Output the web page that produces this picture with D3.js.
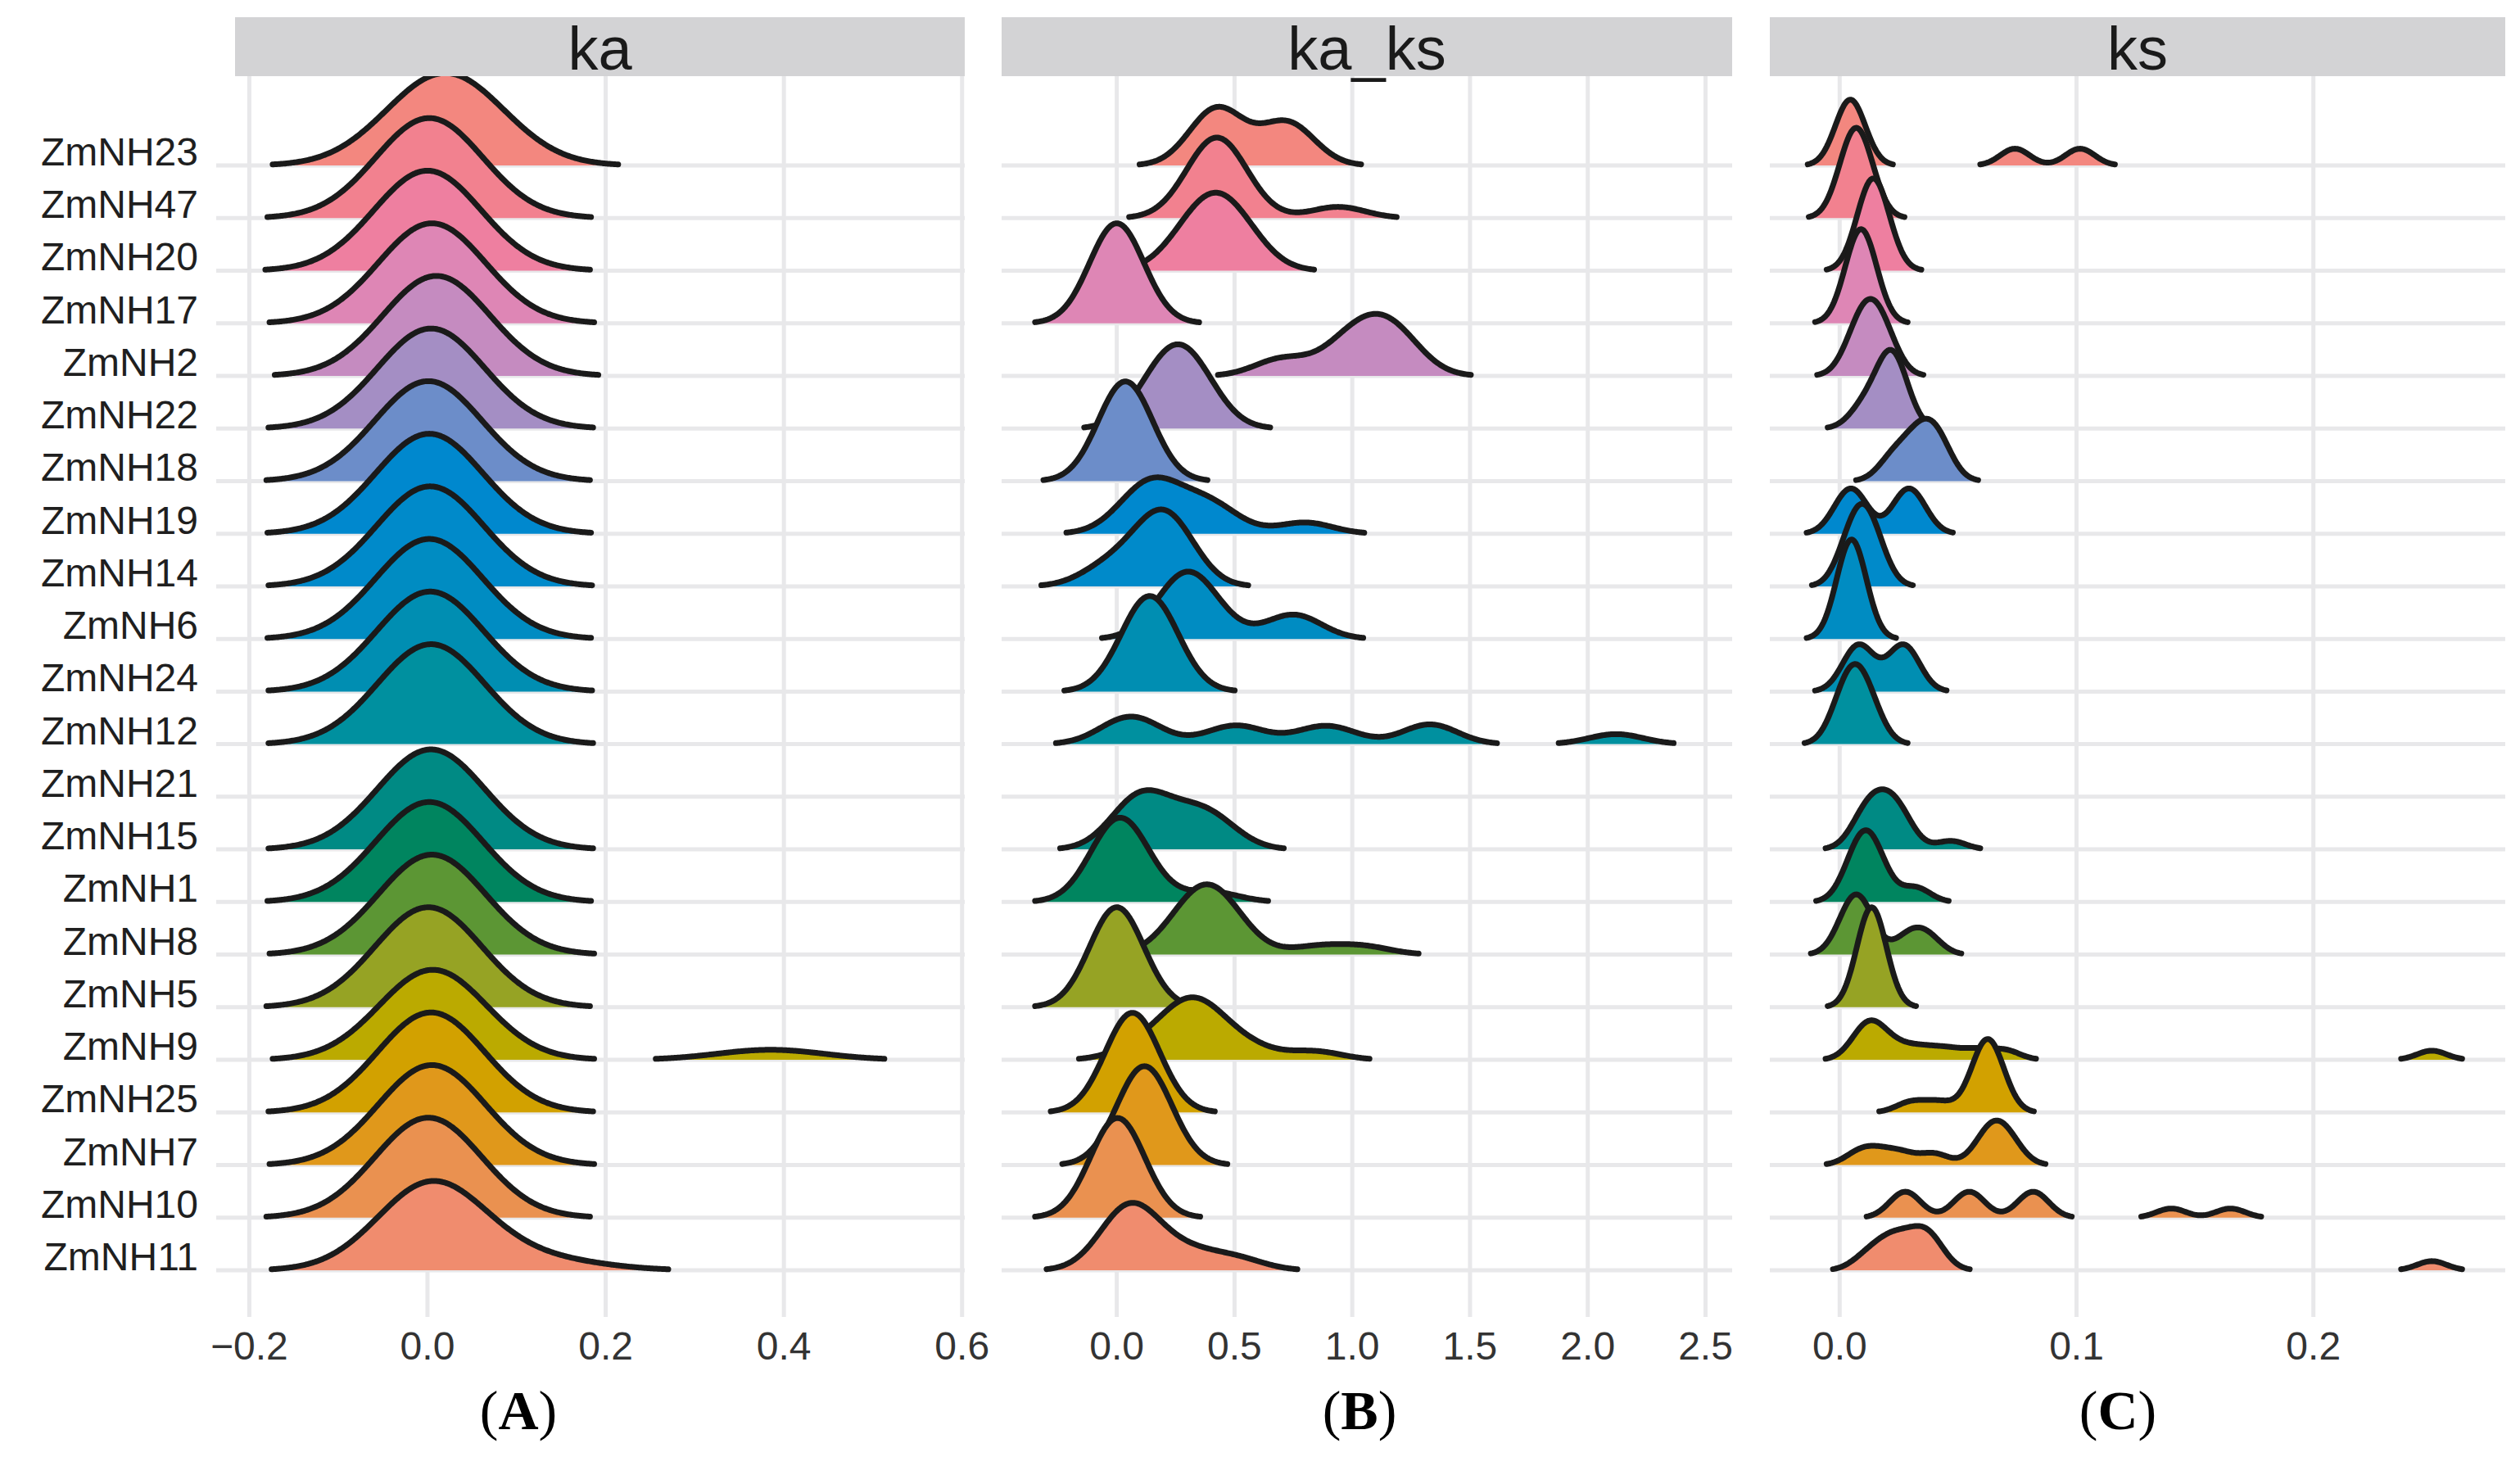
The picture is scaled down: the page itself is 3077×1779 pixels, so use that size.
<!DOCTYPE html>
<html>
<head>
<meta charset="utf-8">
<script src="https://cdn.jsdelivr.net/npm/d3@7"></script>
<style>
  body { margin: 0; background: #fff; }
  text { font-family: "Liberation Sans", Arial, sans-serif; }
</style>
</head>
<body>
<div id="chart"></div>
<script>
// genes, top row first
const genes = ['ZmNH23', 'ZmNH47', 'ZmNH20', 'ZmNH17', 'ZmNH2', 'ZmNH22', 'ZmNH18', 'ZmNH19',
  'ZmNH14', 'ZmNH6', 'ZmNH24', 'ZmNH12', 'ZmNH21', 'ZmNH15', 'ZmNH1', 'ZmNH8', 'ZmNH5',
  'ZmNH9', 'ZmNH25', 'ZmNH7', 'ZmNH10', 'ZmNH11'];

const geneColors = ['#F3877F', '#F2818F', '#EE7FA0', '#DE86B5', '#C58BC0', '#A48EC4', '#6C8DC9',
  '#0088CE', '#008ACA', '#008CC2', '#008EB2', '#00909F', '#00898C', '#008A84', '#00855F',
  '#5C9634', '#96A324', '#BBAA00', '#D2A100', '#E0981B', '#EA9150', '#F08C6E'];

const panelNames = ['ka', 'ka_ks', 'ks'];
const panelLetters = ['A', 'B', 'C'];

const kaSamples = [
  [-0.01, 0.02, 0.05],
  [-0.003, 0.002, 0.007],
  [-0.005, 0.0, 0.005],
  [0.0, 0.005, 0.01],
  [0.005, 0.01, 0.015],
  [-0.001, 0.004, 0.009],
  [-0.004, 0.001, 0.006],
  [-0.003, 0.002, 0.007],
  [-0.002, 0.003, 0.008],
  [-0.003, 0.002, 0.007],
  [-0.002, 0.003, 0.008],
  [-0.001, 0.004, 0.009],
  [],
  [-0.001, 0.004, 0.009],
  [-0.003, 0.002, 0.007],
  [0.0, 0.005, 0.01],
  [-0.004, 0.001, 0.006],
  [0.0, 0.002, 0.004, 0.005, 0.006, 0.007, 0.008, 0.01, 0.012, 0.385],
  [-0.001, 0.004, 0.009],
  [0.0, 0.005, 0.01],
  [-0.004, 0.001, 0.006],
  [-0.005, -0.002, 0.0, 0.0, 0.002, 0.003, 0.004, 0.005, 0.006, 0.008, 0.01, 0.012, 0.08, 0.15]
];

const kaksSamples = [
  [0.41, 0.42, 0.43, 0.44, 0.71, 0.72, 0.74],
  [0.33, 0.38, 0.40, 0.42, 0.43, 0.45, 0.47, 0.52, 0.94],
  [0.28, 0.36, 0.40, 0.44, 0.48, 0.56],
  [-0.01, 0.0, 0.01],
  [0.70, 0.95, 1.03, 1.10, 1.16, 1.22],
  [0.15, 0.22, 0.26, 0.30, 0.36],
  [0.02, 0.04, 0.05],
  [0.05, 0.12, 0.15, 0.17, 0.20, 0.33, 0.38, 0.45, 0.80],
  [-0.05, 0.10, 0.17, 0.20, 0.23, 0.26],
  [0.22, 0.27, 0.29, 0.31, 0.34, 0.40, 0.72, 0.78],
  [0.09, 0.13, 0.15, 0.19],
  [0.0, 0.06, 0.12, 0.46, 0.55, 0.84, 0.94, 1.31, 1.35, 2.12],
  [],
  [0.04, 0.09, 0.12, 0.16, 0.30, 0.36, 0.44],
  [-0.05, -0.03, -0.01, 0.0, 0.01, 0.02, 0.04, 0.06, 0.10, 0.40],
  [0.25, 0.29, 0.32, 0.35, 0.37, 0.38, 0.40, 0.42, 0.44, 0.47, 0.52, 0.85, 1.05],
  [-0.01, 0.0, 0.01],
  [0.08, 0.18, 0.25, 0.28, 0.30, 0.32, 0.34, 0.37, 0.41, 0.47, 0.58, 0.84],
  [0.05, 0.07, 0.08],
  [0.09, 0.11, 0.13, 0.14],
  [-0.01, 0.0, 0.02],
  [-0.02, 0.02, 0.04, 0.05, 0.07, 0.10, 0.14, 0.25, 0.36, 0.52]
];

const ksSamples = [
  [0.003, 0.004, 0.005, 0.006, 0.074, 0.1015],
  [0.003, 0.006, 0.008, 0.011],
  [0.011, 0.013, 0.015, 0.018],
  [0.006, 0.008, 0.010, 0.012],
  [0.006, 0.010, 0.013, 0.016, 0.020],
  [0.010, 0.019, 0.021, 0.023, 0.025],
  [0.022, 0.030, 0.035, 0.039, 0.043],
  [0.001, 0.005, 0.008, 0.026, 0.029, 0.033],
  [0.004, 0.008, 0.011, 0.015],
  [0.004, 0.005, 0.006],
  [0.005, 0.008, 0.011, 0.024, 0.027, 0.030],
  [0.001, 0.005, 0.008, 0.013],
  [],
  [0.008, 0.010, 0.012, 0.014, 0.016, 0.018, 0.020, 0.022, 0.024, 0.026, 0.028, 0.047],
  [0.005, 0.008, 0.010, 0.012, 0.014, 0.017, 0.032],
  [0.003, 0.006, 0.008, 0.011, 0.029, 0.037],
  [0.013, 0.014],
  [0.008, 0.011, 0.013, 0.015, 0.019, 0.027, 0.036, 0.046, 0.058, 0.070, 0.25],
  [0.030, 0.042, 0.058, 0.060, 0.061, 0.062, 0.063, 0.064, 0.065, 0.067],
  [0.008, 0.016, 0.026, 0.040, 0.060, 0.064, 0.066, 0.069, 0.073],
  [0.025, 0.028, 0.030, 0.052, 0.055, 0.057, 0.079, 0.082, 0.084, 0.140, 0.165],
  [0.010, 0.016, 0.020, 0.023, 0.026, 0.030, 0.034, 0.036, 0.038, 0.041, 0.250]
];

const kaTicks = [-0.2, 0.0, 0.2, 0.4, 0.6];
const kaksTicks = [0.0, 0.5, 1.0, 1.5, 2.0, 2.5];
const ksTicks = [0.0, 0.1, 0.2];

// joint kernel bandwidth per panel
const bandwidths = [0.06, 0.115, 0.0062];

const width = 3077, height = 1779;
const panelTop = 93, panelBottom = 1608;
const ridgeScale = 1.9;     // tallest ridge = 1.9 row spacings
const relMinHeight = 0.01;  // trim below 1% of the panel max

const svg = d3.select('#chart')
  .append('svg')
  .attr('width', width)
  .attr('height', height);

const y = d3.scalePoint()
  .domain(genes)
  .range([202, 1551]);
const rowStep = y.step();

const color = d3.scaleOrdinal()
  .domain(genes)
  .range(geneColors);

const panels = [
  { samples: kaSamples, ticks: kaTicks, domain: [-0.216, 0.603], range: [287, 1178], gridLeft: 264, letterX: 633 },
  { samples: kaksSamples, ticks: kaksTicks, domain: [-0.489, 2.613], range: [1223, 2115], gridLeft: 1223, letterX: 1660 },
  { samples: ksSamples, ticks: ksTicks, domain: [-0.0295, 0.281], range: [2161, 3059], gridLeft: 2161, letterX: 2586 }
];

function gaussianKde(values, bw, xs) {
  const norm = 1 / (bw * Math.sqrt(2 * Math.PI));
  return xs.map(x => ({
    x: x,
    d: d3.mean(values, v => Math.exp(-0.5 * ((x - v) / bw) ** 2)) * norm
  }));
}

// y-axis labels
svg.append('g')
  .selectAll('text')
  .data(genes)
  .enter()
  .append('text')
  .attr('x', 242)
  .attr('y', d => y(d))
  .attr('text-anchor', 'end')
  .attr('font-size', 48)
  .attr('fill', '#1f1f1f')
  .text(d => d);

panels.forEach((p, pi) => {
  const x = d3.scaleLinear().domain(p.domain).range(p.range);
  const g = svg.append('g');

  // grid
  g.selectAll('.vgrid')
    .data(p.ticks)
    .enter()
    .append('line')
    .attr('x1', d => x(d)).attr('x2', d => x(d))
    .attr('y1', panelTop).attr('y2', panelBottom)
    .attr('stroke', '#E8E8EA')
    .attr('stroke-width', 5);

  g.selectAll('.hgrid')
    .data(genes)
    .enter()
    .append('line')
    .attr('x1', p.gridLeft).attr('x2', p.range[1])
    .attr('y1', d => y(d)).attr('y2', d => y(d))
    .attr('stroke', '#E8E8EA')
    .attr('stroke-width', 5);

  // densities
  const n = 700;
  const xs = d3.range(n).map(i => p.domain[0] + (p.domain[1] - p.domain[0]) * i / (n - 1));
  const dens = p.samples.map(vals => vals.length ? gaussianKde(vals, bandwidths[pi], xs) : []);
  const maxD = d3.max(dens, ds => d3.max(ds, e => e.d)) || 1;
  const cutoff = relMinHeight * maxD;

  const clipId = 'clip' + pi;
  svg.append('clipPath').attr('id', clipId)
    .append('rect')
    .attr('x', p.range[0]).attr('y', panelTop)
    .attr('width', p.range[1] - p.range[0])
    .attr('height', panelBottom - panelTop);

  const ridges = g.append('g').attr('clip-path', `url(#${clipId})`);

  genes.forEach((gene, gi) => {
    const ds = dens[gi];
    if (!ds.length) return;
    // split into runs above the cutoff
    const runs = [];
    let cur = null;
    ds.forEach(e => {
      if (e.d >= cutoff) {
        if (!cur) { cur = []; runs.push(cur); }
        cur.push(e);
      } else {
        cur = null;
      }
    });

    const base = y(gene);
    const h = e => base - e.d / maxD * ridgeScale * rowStep;
    const area = d3.area().x(e => x(e.x)).y0(base).y1(h);
    const line = d3.line().x(e => x(e.x)).y(h);

    runs.forEach(run => {
      ridges.append('path')
        .attr('d', area(run))
        .attr('fill', color(gene));
      ridges.append('path')
        .attr('d', line(run))
        .attr('fill', 'none')
        .attr('stroke', '#1a1a1a')
        .attr('stroke-width', 7)
        .attr('stroke-linejoin', 'round')
        .attr('stroke-linecap', 'round');
    });
  });

  // facet strip
  g.append('rect')
    .attr('x', p.range[0])
    .attr('y', 21)
    .attr('width', p.range[1] - p.range[0])
    .attr('height', panelTop - 21)
    .attr('fill', '#D3D3D5');

  g.append('text')
    .attr('x', (p.range[0] + p.range[1]) / 2)
    .attr('y', 85)
    .attr('text-anchor', 'middle')
    .attr('font-size', 74)
    .attr('fill', '#1a1a1a')
    .text(panelNames[pi]);

  // x tick labels
  g.selectAll('.tick-label')
    .data(p.ticks)
    .enter()
    .append('text')
    .attr('x', d => x(d))
    .attr('y', 1660)
    .attr('text-anchor', 'middle')
    .attr('font-size', 48)
    .attr('fill', '#333')
    .text(d3.format('.1f'));

  // panel letter
  const letter = g.append('text')
    .attr('x', p.letterX)
    .attr('y', 1745)
    .attr('text-anchor', 'middle')
    .attr('font-size', 68)
    .attr('fill', '#000')
    .style('font-family', '"Liberation Serif", "Times New Roman", serif');
  letter.append('tspan').text('(');
  letter.append('tspan').attr('font-weight', 'bold').text(panelLetters[pi]);
  letter.append('tspan').text(')');
});
</script>
</body>
</html>
